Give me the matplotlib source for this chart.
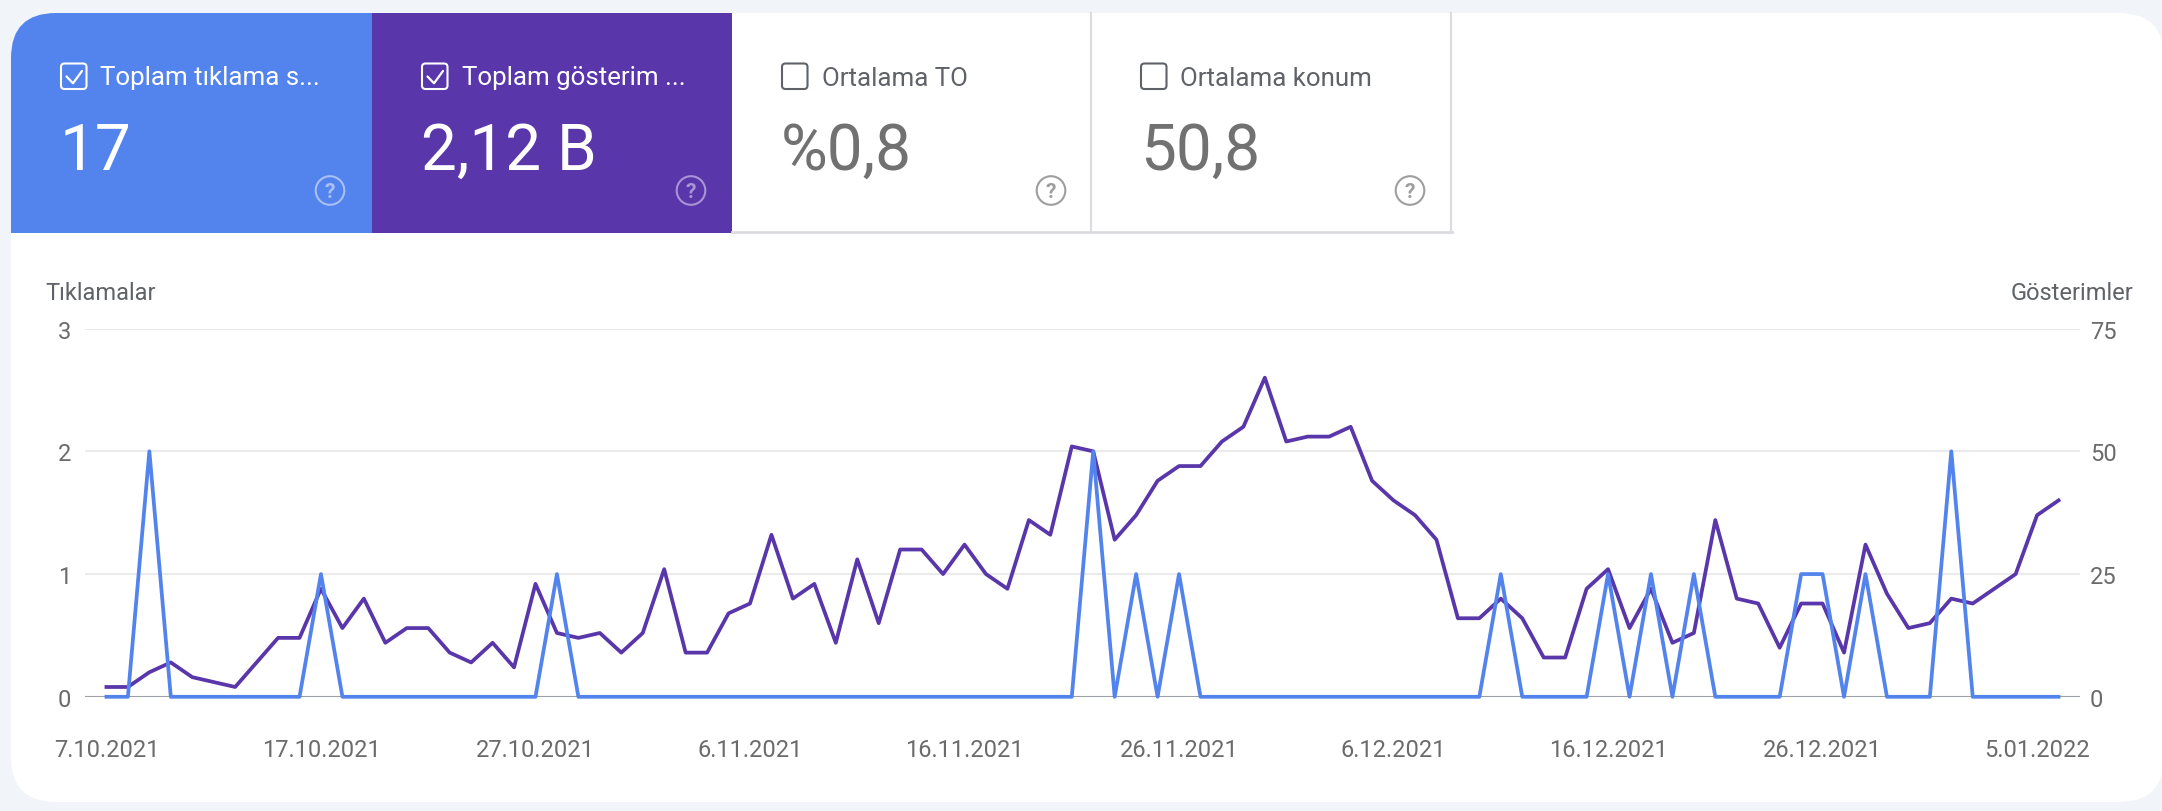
import datetime
import matplotlib
matplotlib.use("Agg")
import matplotlib.pyplot as plt
from matplotlib.patches import FancyBboxPatch, Rectangle, Circle
from matplotlib.lines import Line2D
from matplotlib.ticker import FuncFormatter

plt.rcParams['font.family'] = ['Roboto', 'DejaVu Sans']

W, H = 2162, 812

# gunluk veriler: 7.10.2021 - 6.01.2022
baslangic = datetime.date(2021, 10, 7)
tiklamalar = [0, 0, 2, 0, 0, 0, 0, 0, 0, 0,
              1, 0, 0, 0, 0, 0, 0, 0, 0, 0,
              0, 1, 0, 0, 0, 0, 0, 0, 0, 0,
              0, 0, 0, 0, 0, 0, 0, 0, 0, 0,
              0, 0, 0, 0, 0, 0, 2, 0, 1, 0,
              1, 0, 0, 0, 0, 0, 0, 0, 0, 0,
              0, 0, 0, 0, 0, 1, 0, 0, 0, 0,
              1, 0, 1, 0, 1, 0, 0, 0, 0, 1,
              1, 0, 1, 0, 0, 0, 2, 0, 0, 0,
              0, 0]
gosterimler = [2, 2, 5, 7, 4, 3, 2, 7, 12, 12,
               22, 14, 20, 11, 14, 14, 9, 7, 11, 6,
               23, 13, 12, 13, 9, 13, 26, 9, 9, 17,
               19, 33, 20, 23, 11, 28, 15, 30, 30, 25,
               31, 25, 22, 36, 33, 51, 50, 32, 37, 44,
               47, 47, 52, 55, 65, 52, 53, 53, 55, 44,
               40, 37, 32, 16, 16, 20, 16, 8, 8, 22,
               26, 14, 22, 11, 13, 36, 20, 19, 10, 19,
               19, 9, 31, 21, 14, 15, 20, 19, 22, 25,
               37, 40]
tarihler = [baslangic + datetime.timedelta(days=i) for i in range(len(gosterimler))]

kart_basliklari = ['Toplam tıklama s...', 'Toplam gösterim ...', 'Ortalama TO', 'Ortalama konum']
kart_degerleri = ['17', '2,12 B', '%0,8', '50,8']
kart_secili = [True, True, False, False]

MAVI = '#5383ec'
MOR = '#5936a9'
GRI_YAZI = '#5f6368'

fig = plt.figure(figsize=(W / 100, H / 100), dpi=100)
fig.patch.set_facecolor('#f1f4f9')

# arka plan / kartlar
bg = fig.add_axes([0, 0, 1, 1])
bg.set_xlim(0, W)
bg.set_ylim(H, 0)
bg.axis('off')
bg.set_zorder(0)

bg.add_patch(FancyBboxPatch((11, 14), W - 11 + 2, 803 - 14, boxstyle='round,pad=0,rounding_size=45',
                            facecolor='white', edgecolor='none'))

kart_x = [11, 372, 732, 1091]
kart_w = 360

# mavi kart: sol ust kose yuvarlak
bg.add_patch(FancyBboxPatch((11, 14), kart_w + 1, 220, boxstyle='round,pad=0,rounding_size=45',
                            facecolor=MAVI, edgecolor='none'))
bg.add_patch(Rectangle((11 + 60, 14), kart_w + 1 - 60, 220, facecolor=MAVI, edgecolor='none'))
bg.add_patch(Rectangle((11, 14 + 60), kart_w + 1, 160, facecolor=MAVI, edgecolor='none'))
bg.add_patch(Rectangle((372, 14), kart_w, 220, facecolor=MOR, edgecolor='none'))

# beyaz kartlarin cizgileri
bg.plot([1091, 1091], [14, 233], color='#dadce0', lw=1.5)
bg.plot([1451, 1451], [14, 233], color='#dadce0', lw=1.5)
bg.plot([732, 1452], [233, 233], color='#dadce0', lw=2)

for i in range(4):
    x0 = kart_x[i]
    secili = kart_secili[i]
    yazi_renk = 'white' if secili else GRI_YAZI
    deger_renk = 'white' if secili else '#717171'
    # onay kutusu
    bg.add_patch(FancyBboxPatch((x0 + 50, 64.5), 25.5, 25.5, boxstyle='round,pad=0,rounding_size=3.5',
                                facecolor='none', edgecolor=yazi_renk, lw=1.5))
    if secili:
        bg.add_line(Line2D([x0 + 55.5, x0 + 62, x0 + 71], [77.5, 84.3, 72], color='white', lw=1.6,
                           solid_capstyle='round', solid_joinstyle='round'))
    bg.text(x0 + 89.5, 85.5, kart_basliklari[i], color=yazi_renk, fontsize=18.6, va='baseline', ha='left')
    bg.text(x0 + 49, 170, kart_degerleri[i], color=deger_renk, fontsize=46, va='baseline', ha='left')
    # yardim ikonu
    if i == 0:
        ikon = '#a8c0f5'
    elif i == 1:
        ikon = '#a995d6'
    else:
        ikon = '#9e9e9e'
    bg.add_patch(Circle((x0 + 319, 191.5), 14.3, facecolor='none', edgecolor=ikon, lw=1.5))
    bg.text(x0 + 319, 192.5, '?', color=ikon, fontsize=15, fontweight='bold', ha='center', va='center')

bg.text(45, 294, 'Tıklamalar', color=GRI_YAZI, fontsize=17, ha='left', va='center')
bg.text(2133, 294, 'Gösterimler', color=GRI_YAZI, fontsize=17, ha='right', va='center')

# grafik
sol, sag = 85, 2080
alt, ust = 697.8, 329.6
ax = fig.add_axes([sol / W, 1 - alt / H, (sag - sol) / W, (alt - ust) / H])
ax2 = ax.twinx()
ax2.set_zorder(1)
ax.set_zorder(2)
ax.patch.set_visible(False)
ax2.patch.set_visible(False)

ax2.plot(tarihler, gosterimler, color=MOR, lw=2.7, clip_on=False, solid_joinstyle='round')
ax.plot(tarihler, tiklamalar, color=MAVI, lw=2.7, clip_on=False, solid_joinstyle='round')

ax.set_ylim(0, 3)
ax2.set_ylim(0, 75)
ax.set_yticks([0, 1, 2, 3])
ax2.set_yticks([0, 25, 50, 75])
for y in [25, 50, 75]:
    ax2.axhline(y, color='#ebebeb', lw=1.5, zorder=0)
ax2.axhline(0, color='#9aa0a6', lw=1.5, zorder=0)

gun = datetime.timedelta(days=1)
ax.set_xlim(tarihler[0] - 1.056 * gun, tarihler[-1] + 1.17 * gun)
ax.set_xticks(tarihler[0:91:10])
ax.xaxis.set_major_formatter(FuncFormatter(
    lambda v, p: (lambda d: f"{d.day}.{d.month:02d}.{d.year}")(matplotlib.dates.num2date(v))))

for a in (ax, ax2):
    for s in a.spines.values():
        s.set_visible(False)
    a.tick_params(length=0, labelsize=17, labelcolor='#6b6b6b')
ax.tick_params(axis='y', pad=10)
ax2.tick_params(axis='y', pad=7)
ax.tick_params(axis='x', pad=30)

fig.savefig('out.png', dpi=100, facecolor=fig.get_facecolor())
